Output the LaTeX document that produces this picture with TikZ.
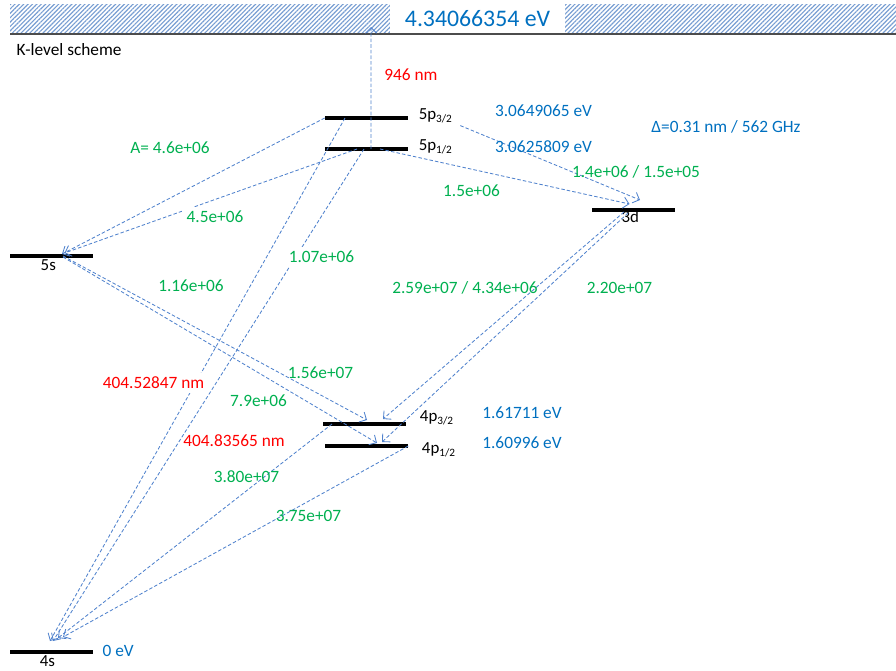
\documentclass[tikz,border=0pt]{standalone}
\usepackage{fontspec}
\setmainfont{Carlito}
\usepackage{tikz}
\usetikzlibrary{positioning, arrows.meta, calc, patterns.meta}
\definecolor{rategreen}{RGB}{0,176,80}
\definecolor{wavered}{RGB}{255,0,0}
\definecolor{energyblue}{RGB}{0,112,192}
\definecolor{arrowblue}{RGB}{80,130,205}
\definecolor{hatchblue}{RGB}{120,158,210}

\begin{document}
\begin{tikzpicture}[
  x=0.025cm, y=-0.025cm,
  level/.style={fill=black, minimum width=2.075cm, minimum height=2.2pt, inner sep=0pt},
  levelname/.style={inner sep=1pt, font=\fontsize{12}{14}\selectfont},
  rate/.style={inner sep=1pt, text=rategreen, font=\fontsize{12.3}{14}\selectfont},
  wave/.style={inner sep=1pt, text=wavered, font=\fontsize{12.3}{14}\selectfont},
  energy/.style={inner sep=1pt, text=energyblue, font=\fontsize{12.3}{14}\selectfont},
  masked/.style={fill=white, inner sep=3pt},
  arrow/.style={-{Straight Barb[length=4pt, width=8pt]}, draw=arrowblue, line width=0.6pt, dash pattern=on 2.5pt off 1.5pt}
]
\useasboundingbox (0,0) rectangle (896,671);

% Continuum
\fill[pattern={Lines[angle=45, distance=2.2pt, line width=0.8pt]}, pattern color=hatchblue] (10,4) rectangle (896,34);
\node[energy, fill=white, minimum width=4.375cm, minimum height=0.75cm, font=\fontsize{16.9}{19}\selectfont] (limit) at (477.5,18.5) {4.34066354 eV};
\draw[line width=1.2pt, draw=black!70] (10,34) -- (896,34);
\coordinate (ion) at (371,27);
\node[energy, text=black, anchor=west] (title) at (15,50) {K-level scheme};

% Nodes
\node[level] (p32) at (366.5,118) {};
\node[level] (p12) at (366.5,149) {};
\node[level] (d3) at (633.5,210) {};
\node[level] (s5) at (51.5,256) {};
\node[level] (q32) at (364.5,424) {};
\node[level] (q12) at (366.5,446) {};
\node[level] (s4) at (51.5,652) {};

\node[levelname, right=0.22cm of p32, yshift=0.05cm] (lp32) {5p\textsubscript{3/2}};
\node[levelname, right=0.22cm of p12, yshift=0.05cm] (lp12) {5p\textsubscript{1/2}};
\node[levelname, below=0pt of d3, xshift=-0.08cm, yshift=0.06cm] (ld3) {3d};
\node[levelname, below=0pt of s5, xshift=-0.08cm] (ls5) {5s};
\node[levelname, right=0.3cm of q32, yshift=0.15cm] (lq32) {4p\textsubscript{3/2}};
\node[levelname, right=0.3cm of q12, yshift=-0.1cm] (lq12) {4p\textsubscript{1/2}};
\node[levelname, below=0pt of s4, xshift=-0.1cm] (ls4) {4s};

% Arrows
\draw[arrow] ($(p12)+(4.5,0)$) -- (ion);
\draw[arrow] (p32.west) -- ($(s5)+(10.5,-2)$);
\draw[arrow] ($(p12)+(-9.5,0)$) -- ($(s5)+(13,-3)$);
\draw[arrow] ($(p32)+(-21.5,0)$) -- ($(s4)+(-1.5,-11)$);
\draw[arrow] ($(p12)+(-2.5,0)$) -- ($(s4)+(1.5,-11)$);
\draw[arrow] ($(lp32.south east)+(6,1)$) -- ($(d3)+(6.5,-10)$);
\draw[arrow] ($(p12)+(13.5,0)$) -- ($(d3)+(-4,-6)$);
\draw[arrow] ($(s5)+(11.5,0)$) -- ($(q32)+(2.5,-4)$);
\draw[arrow] ($(s5)+(11.5,1)$) -- ($(q12)+(10.5,-3)$);
\draw[arrow] ($(d3)+(-9.5,2)$) -- ($(q32)+(18.5,-5)$);
\draw[arrow] ($(d3)+(-5.5,3)$) -- ($(q12)+(15.5,-4)$);
\draw[arrow] ($(q32)+(-32.5,0)$) -- ($(s4)+(6.5,-14)$);
\draw[arrow] (q12.east) -- ($(s4)+(11.5,-15)$);

% Labels
\node[wave] (w946) at (411,75) {946 nm};
\node[wave, masked] (w4045) at (153.5,383) {404.52847 nm};
\node[wave] (w4048) at (234,441) {404.83565 nm};

\node[rate] (a1) at (170,148) {A= 4.6e+06};
\node[rate, masked] (a2) at (215,217) {4.5e+06};
\node[rate, masked] (a3) at (321.5,257) {1.07e+06};
\node[rate] (a4) at (191,286) {1.16e+06};
\node[rate] (a5) at (320.5,373) {1.56e+07};
\node[rate] (a6) at (258.5,401) {7.9e+06};
\node[rate] (a7) at (246.5,477) {3.80e+07};
\node[rate] (a8) at (308.5,516) {3.75e+07};
\node[rate] (a9) at (471.5,191) {1.5e+06};
\node[rate] (a10) at (636,172) {1.4e+06 / 1.5e+05};
\node[rate] (a11) at (465,288) {2.59e+07 / 4.34e+06};
\node[rate] (a12) at (619.5,288) {2.20e+07};

\node[energy] (e1) at (543.5,111) {3.0649065 eV};
\node[energy] (e2) at (543.5,147) {3.0625809 eV};
\node[energy] (e3) at (726,127) {Δ=0.31 nm / 562 GHz};
\node[energy] (e4) at (522,413) {1.61711 eV};
\node[energy] (e5) at (522,443) {1.60996 eV};
\node[energy, anchor=west] (e6) at (101,651) {0 eV};

\end{tikzpicture}
\end{document}
